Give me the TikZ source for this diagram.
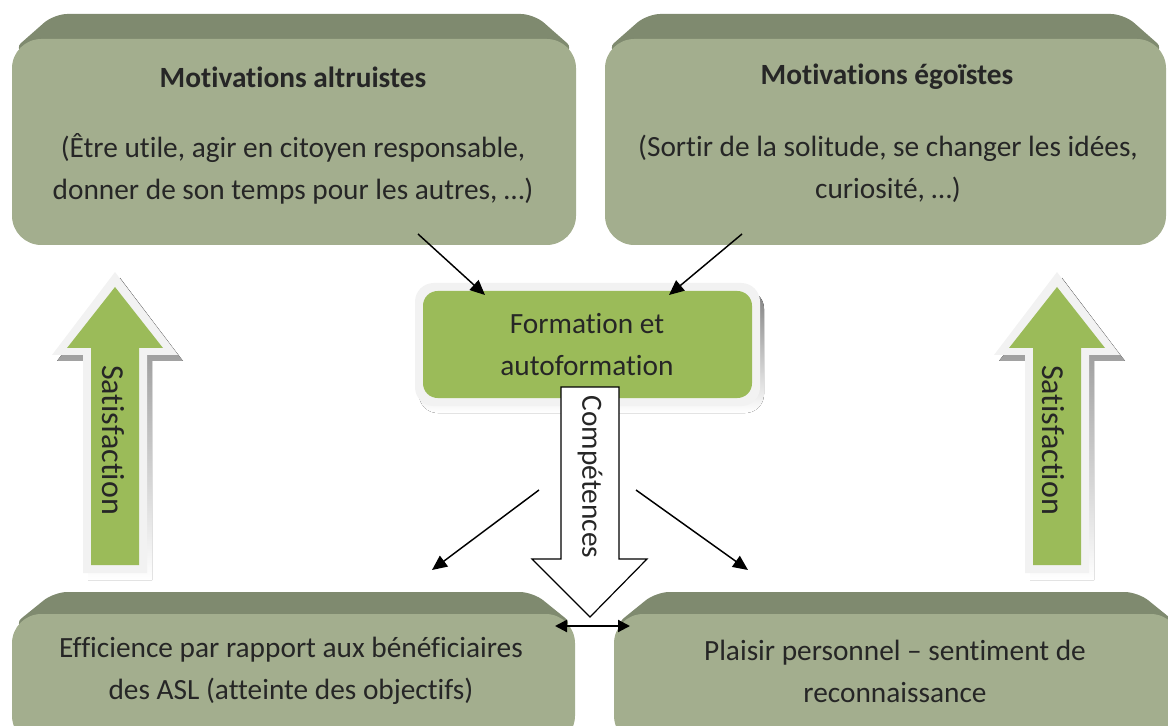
\documentclass[tikz,border=0pt]{standalone}
\usepackage{fontspec}
\setmainfont{Carlito}[Ligatures={NoCommon,NoRequired}]
\usetikzlibrary{arrows.meta,positioning}
\definecolor{boxgreen}{HTML}{A3AE8E}
\definecolor{boxtop}{HTML}{7F8A6F}
\definecolor{leafgreen}{HTML}{9BBB59}
\definecolor{rim}{HTML}{F2F2F2}
\definecolor{shade}{HTML}{A9B296}
\definecolor{ink}{HTML}{262626}
\tikzset{
  boxtext/.style={text=ink, align=center, font=\fontsize{11}{15.75}\selectfont},
  boxtitle/.style={boxtext, font=\fontsize{11}{15.75}\selectfont\bfseries},
  arrowtext/.style={boxtext, rotate=-90},
  thin arrow/.style={-{Triangle[length=5.6pt,width=5pt]}, line width=0.55pt, black},
  both arrow/.style={{Triangle[length=4.5pt,width=4.5pt]}-{Triangle[length=4.5pt,width=4.5pt]}, line width=0.8pt, black}
}
% left, right, top, bottom, bevel depth
\newcommand\bevelbox[5]{%
  \fill[boxtop, rounded corners=5pt] (#1,#3+#5+12) -- (#1+42,#3) -- (#2-42,#3) -- (#2,#3+#5+12) -- cycle;
  \fill[boxgreen, rounded corners=11pt] (#1,#3+#5) rectangle (#2,#4);
}
% centre of the shaft
\newcommand\satarrow[1]{%
  \fill[shade] (#1+5,278) -- (#1+68,361) -- (#1+37,361) -- (#1+37,580) -- (#1-27,580) -- (#1-27,361) -- (#1-58,361) -- cycle;
  \fill[rim] (#1,272) -- (#1+63,355) -- (#1+32,355) -- (#1+32,573) -- (#1-32,573) -- (#1-32,355) -- (#1-63,355) -- cycle;
  \fill[leafgreen] (#1,287) -- (#1+48,348) -- (#1+24,348) -- (#1+24,565) -- (#1-24,565) -- (#1-24,348) -- (#1-48,348) -- cycle;
}

\begin{document}
\begin{tikzpicture}[x=0.375pt, y=-0.375pt]
  \useasboundingbox (0,0) rectangle (1168,726);
  \clip (0,0) rectangle (1168,726);

  \bevelbox{12}{576}{14}{245}{25}
  \bevelbox{605}{1166}{14}{245}{25}
  \bevelbox{12}{575}{592}{745}{22}
  \bevelbox{614}{1180}{592}{745}{22}

  \node[boxtitle] (altru) at (293,77) {Motivations altruistes};
  \node[boxtext] (altrudesc) at (293,169) {(Être utile, agir en citoyen responsable,\\donner de son temps pour les autres, …)};
  \node[boxtitle] (ego) at (887,77) {Motivations égoïstes};
  \node[boxtext] (egodesc) at (888,169) {(Sortir de la solitude, se changer les idées,\\curiosité, …)};
  \node[boxtext] (effic) at (291,671) {Efficience par rapport aux bénéficiaires\\des ASL (atteinte des objectifs)};
  \node[boxtext] (plaisir) at (895,671) {Plaisir personnel – sentiment de\\reconnaissance};

  % centre box
  \fill[shade, rounded corners=7pt] (419,290) rectangle (764,413);
  \fill[rim, rounded corners=7pt] (415,283) rectangle (760,406);
  \fill[leafgreen, rounded corners=5.5pt] (423,291) rectangle (752,398);
  \node[boxtext] (form) at (587,345) {Formation et\\autoformation};

  \satarrow{115}
  \satarrow{1057}
  \node[arrowtext, font=\fontsize{12}{15}\selectfont] (satleft) at (113,440) {Satisfaction};
  \node[arrowtext, font=\fontsize{12}{15}\selectfont] (satright) at (1053,440) {Satisfaction};

  \draw[fill=white, line width=0.45pt] (561,387) -- (619,387) -- (619,559) -- (647,559) -- (590,617) -- (532,559) -- (561,559) -- cycle;
  \node[arrowtext] (comp) at (590,477) {Compétences};

  \coordinate (altrufoot) at (418,234);
  \coordinate (egofoot) at (742,234);
  \coordinate (formleft) at (485,295);
  \coordinate (formright) at (669,295);
  \coordinate (compleft) at (539,490);
  \coordinate (compright) at (636,490);
  \coordinate (efficin) at (432,570);
  \coordinate (plaisirin) at (748,570);
  \coordinate (efficside) at (555,626);
  \coordinate (plaisirside) at (630,626);

  \draw[thin arrow] (altrufoot) -- (formleft);
  \draw[thin arrow] (egofoot) -- (formright);
  \draw[thin arrow] (compleft) -- (efficin);
  \draw[thin arrow] (compright) -- (plaisirin);
  \draw[both arrow] (efficside) -- (plaisirside);
\end{tikzpicture}
\end{document}
